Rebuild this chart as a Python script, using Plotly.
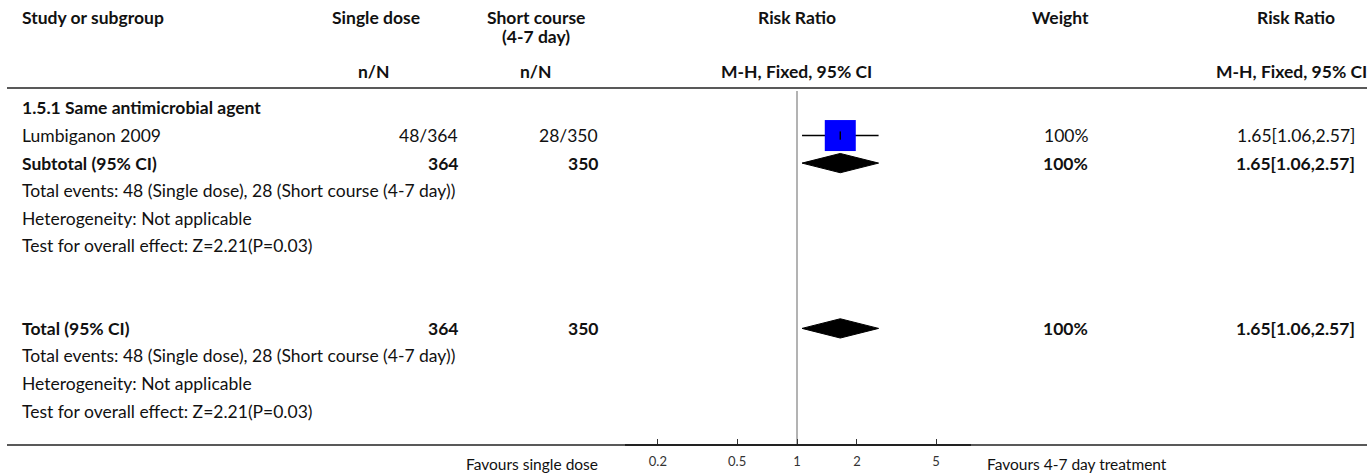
import plotly.graph_objects as go

# ---------------- data ----------------
studies = ["Lumbiganon 2009"]
events_single = [48]
total_single = [364]
events_short = [28]
total_short = [350]
study_rr = [1.65]
study_lo = [1.06]
study_hi = [2.57]
study_weight = [100]

subgroup_label = "1.5.1 Same antimicrobial agent"
pooled_rr = 1.65
pooled_lo = 1.06
pooled_hi = 2.57
pooled_weight = 100
heterogeneity = "Not applicable"
overall_z = 2.21
overall_p = 0.03

tick_vals = [0.2, 0.5, 1, 2, 5]
tick_text = ["0.2", "0.5", "1", "2", "5"]
label_left = "Favours single dose"
label_right = "Favours 4-7 day treatment"

# ---------------- layout helpers ----------------
W, H = 1370, 476
FONT = "Lato"
FS = 17.5
ROW0, ROWH = 108, 27.55


def px(x):
    return x / W


def py(y):
    return 1 - y / H


def row_y(k):
    return ROW0 + ROWH * k


ann = []


def text(x, y, s, anchor="left", bold=False, size=FS, color="#111"):
    ann.append(dict(
        x=px(x), y=py(y), xref="paper", yref="paper",
        text=f"<b>{s}</b>" if bold else s,
        showarrow=False, xanchor=anchor, yanchor="middle",
        font=dict(family=FONT, size=size, color=color),
    ))


# header
text(20, 18, "Study or subgroup", bold=True)
text(376, 18, "Single dose", "center", True)
text(536, 18, "Short course", "center", True)
text(536, 37, "(4-7 day)", "center", True)
text(797, 18, "Risk Ratio", "center", True)
text(1060, 18, "Weight", "center", True)
text(1296, 18, "Risk Ratio", "center", True)
text(374, 71, "n/N", "center", True)
text(536, 71, "n/N", "center", True)
text(797, 71, "M-H, Fixed, 95% CI", "center", True)
text(1291, 71, "M-H, Fixed, 95% CI", "center", True)

sum_single = sum(events_single)
sum_short = sum(events_short)
events_txt = f"Total events: {sum_single} (Single dose), {sum_short} (Short course (4-7 day))"
het_txt = f"Heterogeneity: {heterogeneity}"
eff_txt = f"Test for overall effect: Z={overall_z:.2f}(P={overall_p:.2f})"
pooled_txt = f"{pooled_rr:.2f}[{pooled_lo:.2f},{pooled_hi:.2f}]"

COL_SINGLE, COL_SHORT, COL_W, COL_RR = 460, 600, 1090, 1357

k = 0
text(20, row_y(k), subgroup_label, bold=True)
k += 1
study_rows = []
for i, s in enumerate(studies):
    y = row_y(k)
    text(20, y, s)
    text(COL_SINGLE, y, f"{events_single[i]}/{total_single[i]}", "right")
    text(COL_SHORT, y, f"{events_short[i]}/{total_short[i]}", "right")
    text(COL_W, y, f"{study_weight[i]:g}%", "right")
    text(COL_RR, y, f"{study_rr[i]:.2f}[{study_lo[i]:.2f},{study_hi[i]:.2f}]", "right")
    study_rows.append(k)
    k += 1

diamond_rows = []
for label in ["Subtotal (95% CI)", "Total (95% CI)"]:
    y = row_y(k)
    text(20, y, label, bold=True)
    text(COL_SINGLE, y, f"{sum(total_single)}", "right", True)
    text(COL_SHORT, y, f"{sum(total_short)}", "right", True)
    text(COL_W, y, f"{pooled_weight:g}%", "right", True)
    text(COL_RR, y, pooled_txt, "right", True)
    diamond_rows.append(k)
    k += 1
    for t in [events_txt, het_txt, eff_txt]:
        text(20, row_y(k), t)
        k += 1
    k += 2  # blank rows

# bottom labels
text(600, 464, label_left, "right", size=15.5)
text(985, 464, label_right, "left", size=15.5)

fig = go.Figure()

y_top_px, y_bot_px = 89, 444

# reference line at RR = 1
fig.add_trace(go.Scatter(
    x=[1, 1], y=[(y_top_px + 2 - ROW0) / ROWH, (y_bot_px - ROW0) / ROWH], mode="lines",
    line=dict(color="#9a9a9a", width=1.5), hoverinfo="skip", showlegend=False))

# study CI lines, squares, centre ticks
for i, r in enumerate(study_rows):
    fig.add_trace(go.Scatter(
        x=[study_lo[i], study_hi[i]], y=[r, r], mode="lines",
        line=dict(color="black", width=1.5), showlegend=False, hoverinfo="skip"))
    fig.add_trace(go.Scatter(
        x=[study_rr[i]], y=[r], mode="markers",
        marker=dict(symbol="square", size=31 * study_weight[i] / 100, color="#0000ff",
                    line=dict(width=0)),
        showlegend=False, hoverinfo="skip"))
    fig.add_trace(go.Scatter(
        x=[study_rr[i], study_rr[i]], y=[r - 0.15, r + 0.15], mode="lines",
        line=dict(color="black", width=1.5), showlegend=False, hoverinfo="skip"))

# pooled diamonds
hh = 0.35
for r in diamond_rows:
    fig.add_trace(go.Scatter(
        x=[pooled_lo, pooled_rr, pooled_hi, pooled_rr, pooled_lo],
        y=[r, r - hh, r, r + hh, r], mode="lines", fill="toself",
        fillcolor="black", line=dict(color="black", width=1),
        showlegend=False, hoverinfo="skip"))

x0_px, x1_px, one_px, decade_px = 625, 971, 797, 199

fig.update_layout(
    width=W, height=H,
    margin=dict(l=0, r=0, t=0, b=0),
    paper_bgcolor="white", plot_bgcolor="rgba(0,0,0,0)",
    annotations=ann,
    hovermode=False,
    xaxis=dict(
        type="log",
        domain=[px(x0_px), px(x1_px)],
        range=[(x0_px - one_px) / decade_px, (x1_px - one_px) / decade_px],
        tickvals=tick_vals, ticktext=tick_text,
        ticks="inside", ticklen=5, tickwidth=1, tickcolor="#333",
        showline=True, linecolor="#222", linewidth=1.5,
        showgrid=False, zeroline=False,
        tickfont=dict(family=FONT, size=13, color="#333"),
        ticklabelstandoff=5,
        fixedrange=True,
    ),
    yaxis=dict(
        domain=[1 - y_bot_px / H, 1 - y_top_px / H],
        range=[(y_bot_px - ROW0) / ROWH, (y_top_px - ROW0) / ROWH],
        visible=False, fixedrange=True,
    ),
    shapes=[
        dict(type="line", xref="paper", yref="paper", x0=px(7), x1=px(1367),
             y0=py(88), y1=py(88), line=dict(color="#222", width=1.5)),
        dict(type="line", xref="paper", yref="paper", x0=px(7), x1=px(1367),
             y0=py(445), y1=py(445), line=dict(color="#222", width=1.5), layer="below"),
    ],
)

fig.write_html("out.html", config={"displayModeBar": False},
               post_script="document.body.style.margin='0px';")
